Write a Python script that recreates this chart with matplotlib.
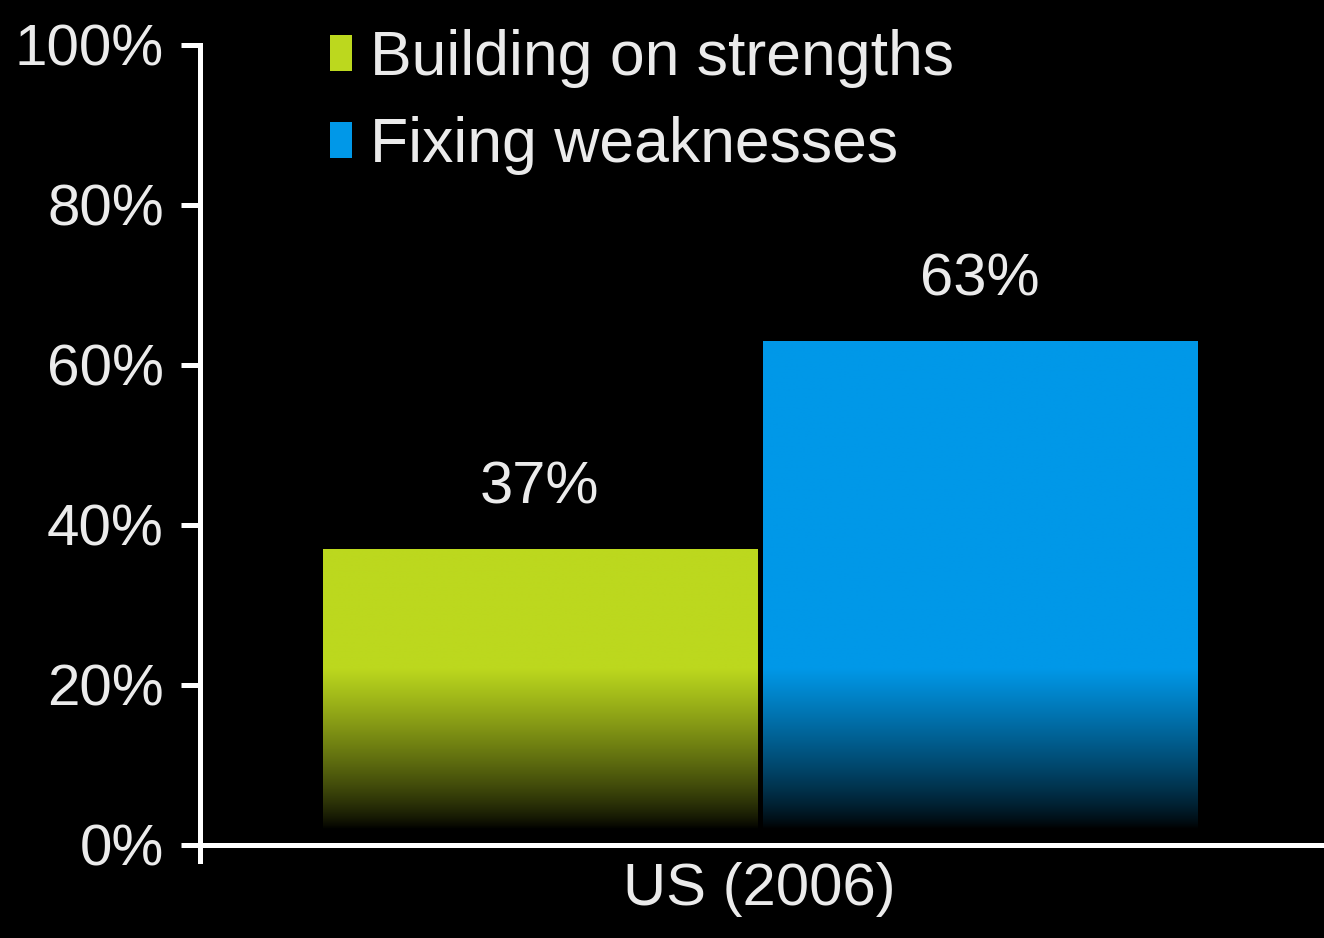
import numpy as np
import matplotlib
matplotlib.use("Agg")
import matplotlib.pyplot as plt
from matplotlib.patches import Patch
from matplotlib.colors import to_rgb

# Survey: which approach leads to more success
group = "US (2006)"
series = ["Building on strengths", "Fixing weaknesses"]
values = [37, 63]
colors = ["#bcd81e", "#0098e8"]

plt.rcParams['font.family'] = ['Liberation Sans', 'DejaVu Sans']
text_color = "#ebebeb"

fig = plt.figure(figsize=(13.24, 9.38), dpi=100, facecolor="black")
ax = fig.add_axes([0.151, 0.0821, 0.849, 0.870], facecolor="black")

width = 0.395
offsets = [-0.2, 0.2]
bars = ax.bar(offsets, values, width=width, color="none", edgecolor="none")

# vertical fade to black toward the baseline
for bar, col in zip(bars, colors):
    x0, h = bar.get_x(), bar.get_height()
    ys = np.linspace(0, h, 400)
    fade = np.clip((ys - 2.0) / 20.0, 0, 1) ** 0.8
    rgb = np.array(to_rgb(col))
    img = (fade[:, None] * rgb[None, :])[:, None, :]
    im = ax.imshow(img, extent=[x0, x0 + bar.get_width(), 0, h], origin="lower",
                   aspect="auto", interpolation="bilinear", zorder=2)
    im.set_clip_path(bar)

for bar, v in zip(bars, values):
    ax.annotate(f"{v}%", (bar.get_x() + bar.get_width() / 2, v), xytext=(0, 24),
                textcoords="offset points", ha="center", va="bottom",
                fontsize=43, color=text_color)

ax.set_xlim(-0.509, 0.513)
ax.set_ylim(-2, 100)
ax.set_yticks(range(0, 101, 20))
ax.set_yticklabels([f"{t}%" for t in range(0, 101, 20)])
ax.set_xticks([0])
ax.set_xticklabels([group])

for side in ["top", "right"]:
    ax.spines[side].set_visible(False)
ax.spines["left"].set_color("white")
ax.spines["left"].set_linewidth(3.6)
ax.spines["bottom"].set_color("white")
ax.spines["bottom"].set_linewidth(3.6)
ax.spines["bottom"].set_position(("data", 0))

ax.tick_params(axis="y", colors="white", length=14, width=3.6, pad=12,
               labelsize=42, labelcolor=text_color)
ax.tick_params(axis="x", length=0, pad=12, labelsize=43, labelcolor=text_color)

handles = [Patch(facecolor=c, edgecolor="none") for c in colors]
leg = fig.legend(handles, series, loc="upper left", bbox_to_anchor=(0.249, 0.969),
                 frameon=False, fontsize=45, handlelength=0.35, handleheight=0.5,
                 handletextpad=0.3, labelspacing=0.45, borderpad=0.0,
                 borderaxespad=0.0)
for t in leg.get_texts():
    t.set_color(text_color)

fig.savefig("out.png", dpi=100, facecolor="black")
